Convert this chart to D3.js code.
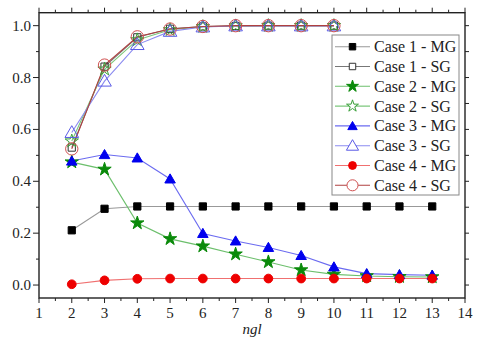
<!DOCTYPE html>
<html><head><meta charset="utf-8">
<script src="https://cdn.jsdelivr.net/npm/d3@7"></script>
<style>body{margin:0;background:#fff}svg{display:block}svg text{font-family:"Liberation Serif","Times New Roman",Times,serif}</style>
</head><body>
<script>
const xMG = [2,3,4,5,6,7,8,9,10,11,12,13];
const xSG = [2,3,4,5,6,7,8,9,10];
const case1MG = [0.211,0.294,0.303,0.303,0.303,0.303,0.303,0.303,0.303,0.303,0.303,0.303];
const case1SG = [0.530,0.842,0.955,0.988,0.997,0.999,1.0,1.0,1.0];
const case2MG = [0.474,0.446,0.239,0.178,0.150,0.119,0.089,0.058,0.041,0.035,0.032,0.031];
const case2SG = [0.555,0.832,0.945,0.984,0.996,0.999,1.0,1.0,1.0];
const case3MG = [0.478,0.503,0.490,0.409,0.199,0.170,0.145,0.114,0.070,0.044,0.040,0.038];
const case3SG = [0.588,0.786,0.927,0.978,0.995,0.999,0.999,0.999,0.999];
const case4MG = [0.003,0.018,0.024,0.025,0.025,0.025,0.025,0.025,0.025,0.025,0.025,0.025];
const case4SG = [0.525,0.848,0.957,0.987,0.997,1.0,1.0,1.0,1.0];
const xTicks = [1,2,3,4,5,6,7,8,9,10,11,12,13,14];
const yTicks = [0.0,0.2,0.4,0.6,0.8,1.0];
const labels = ["Case 1 - MG","Case 1 - SG","Case 2 - MG","Case 2 - SG","Case 3 - MG","Case 3 - SG","Case 4 - MG","Case 4 - SG"];

const W=480,H=348;
const L=39,R=465,T=12.7,B=298;
const svg=d3.select("body").append("svg").attr("width",W).attr("height",H);
const x=d3.scaleLinear().domain([1,14]).range([L,R]);
const y=d3.scaleLinear().domain([-0.05,1.05]).range([B,T]);

const series=[
 {xs:xMG,ys:case1MG,color:"#000000",line:"#999999",sym:d3.symbolSquare,size:52,fill:true},
 {xs:xSG,ys:case1SG,color:"#333333",line:"#777777",sym:d3.symbolSquare,size:52,fill:false},
 {xs:xMG,ys:case2MG,color:"#0a8a0a",line:"#6cbf6c",sym:d3.symbolStar,size:55,fill:true},
 {xs:xSG,ys:case2SG,color:"#3aa03a",line:"#7cc77c",sym:d3.symbolStar,size:55,fill:false},
 {xs:xMG,ys:case3MG,color:"#0000ee",line:"#6b6bf0",sym:d3.symbolTriangle,size:48,fill:true},
 {xs:xSG,ys:case3SG,color:"#5a5ae6",line:"#8b8bf0",sym:d3.symbolTriangle,size:80,fill:false},
 {xs:xMG,ys:case4MG,color:"#ee0000",line:"#f07070",sym:d3.symbolCircle,size:60,fill:true},
 {xs:xSG,ys:case4SG,color:"#d05050",line:"#b04040",sym:d3.symbolCircle,size:120,fill:false}
];

const minorX=d3.range(1.5,14,1);
const minorY=[0.1,0.3,0.5,0.7,0.9];
const g=svg.append("g").attr("stroke","#222").attr("stroke-width",1);
xTicks.forEach(v=>{
  g.append("line").attr("x1",x(v)).attr("x2",x(v)).attr("y1",B).attr("y2",B+5);
  g.append("line").attr("x1",x(v)).attr("x2",x(v)).attr("y1",T).attr("y2",T-5);
});
minorX.forEach(v=>{
  g.append("line").attr("x1",x(v)).attr("x2",x(v)).attr("y1",B).attr("y2",B+3);
  g.append("line").attr("x1",x(v)).attr("x2",x(v)).attr("y1",T).attr("y2",T-3);
});
yTicks.forEach(v=>{
  g.append("line").attr("x1",L).attr("x2",L-6).attr("y1",y(v)).attr("y2",y(v));
});
minorY.forEach(v=>{
  g.append("line").attr("x1",L).attr("x2",L-3).attr("y1",y(v)).attr("y2",y(v));
});
d3.range(0,11).map(i=>i/10).forEach(v=>{
  g.append("line").attr("x1",R).attr("x2",R+4).attr("y1",y(v)).attr("y2",y(v));
});
svg.append("rect").attr("x",L).attr("y",T).attr("width",R-L).attr("height",B-T)
  .attr("fill","none").attr("stroke","#222").attr("stroke-width",1.4);

svg.append("g").selectAll("text").data(xTicks).join("text")
  .attr("x",d=>x(d)).attr("y",B+20).attr("text-anchor","middle")
  .attr("font-size",15).attr("fill","#222").text(d=>d);
svg.append("g").selectAll("text").data(yTicks).join("text")
  .attr("x",L-8).attr("y",d=>y(d)+5).attr("text-anchor","end")
  .attr("font-size",15).attr("fill","#222").text(d=>d3.format(".1f")(d));
svg.append("text").attr("x",x(7.5)).attr("y",334).attr("text-anchor","middle")
  .attr("font-size",15).attr("font-style","italic").attr("fill","#222").text("ngl");

const line=d3.line();
series.forEach(s=>{
  const pts=s.xs.map((xv,i)=>[x(xv),y(s.ys[i])]);
  svg.append("path").attr("d",line(pts)).attr("fill","none").attr("stroke",s.line).attr("stroke-width",1.1);
});
series.forEach(s=>{
  const sym=d3.symbol().type(s.sym).size(s.size);
  svg.append("g").selectAll("path").data(s.xs.map((xv,i)=>[x(xv),y(s.ys[i])])).join("path")
    .attr("d",sym).attr("transform",d=>`translate(${d[0]},${d[1]+(s.sym===d3.symbolTriangle?1:0)})`)
    .attr("fill",s.fill?s.color:"#fff").attr("fill-opacity",s.fill?1:0)
    .attr("stroke",s.color).attr("stroke-width",1);
});

const lg=svg.append("g");
lg.append("rect").attr("x",332).attr("y",35).attr("width",127).attr("height",160)
  .attr("fill","#fff").attr("stroke","#888").attr("stroke-width",1);
series.forEach((s,i)=>{
  const yy=46.7+i*19.8;
  lg.append("line").attr("x1",335).attr("x2",370).attr("y1",yy).attr("y2",yy).attr("stroke",s.line).attr("stroke-width",1.1);
  lg.append("path").attr("d",d3.symbol().type(s.sym).size(s.size*0.8))
    .attr("transform",`translate(352.5,${yy+(s.sym===d3.symbolTriangle?1:0)})`)
    .attr("fill",s.fill?s.color:"#fff").attr("stroke",s.color).attr("stroke-width",1);
  lg.append("text").attr("x",374).attr("y",yy+5.5).attr("font-size",16)
    .attr("fill","#222").text(labels[i]);
});
</script>
</body></html>
